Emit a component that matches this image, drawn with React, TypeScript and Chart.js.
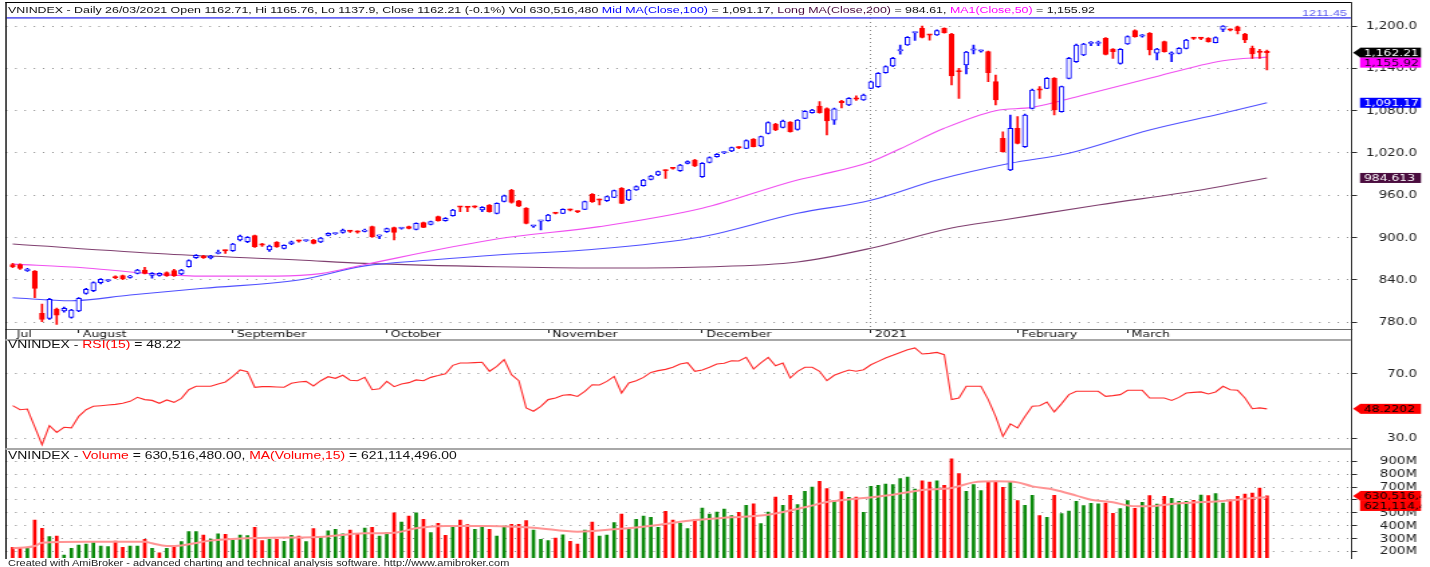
import React, { useEffect, useRef } from 'react';
import { Chart, registerables } from 'chart.js';
Chart.register(...registerables);

// The reference is horizontally stretched; render at W and stretch to 1430.
const W = 1067;
const S = 1430 / W;
const px = (p: number) => p / S;

// ---------------- DATA ----------------
const monthTickIdx = [0, 9, 30, 51, 73, 94, 117, 137, 152];
const monthTickLabels = ['Jul', 'August', 'September', 'October', 'November', 'December', '2021', 'February', 'March'];
const yearIdx = 117;

const opens = [
  861.7, 861.7, 853.2, 852.7, 792.7, 785.6, 798.9, 796, 787, 796,
  821.1, 824.8, 836.2, 838.8, 843.6, 846.1, 843.8, 849.4, 854.1, 846.6,
  846.6, 850.4, 853.2, 848.5, 858.9, 871.6, 874, 871.2, 877.6, 882,
  881.5, 896.7, 894.3, 902.8, 890, 882.5, 893.4, 884.8, 891, 895.3,
  895.5, 896.7, 893.8, 903.3, 905.5, 907.5, 909.3, 908.3, 909, 915.6,
  902, 908.5, 914.2, 913, 915.6, 911.8, 921.2, 918.9, 929.7, 924.1,
  931.2, 943.7, 943.2, 943.7, 939.2, 946.3, 934.5, 951.5, 967, 952.2,
  941.5, 916.3, 923.3, 924.1, 934.7, 934.5, 939.4, 937, 940.1, 961.4,
  953.6, 952.4, 957.1, 969.9, 953.4, 967.5, 973.7, 982.6, 988.8, 995.2,
  998.4, 995, 1005.3, 1010, 986.4, 1006.7, 1014.8, 1020.3, 1022.8, 1027.7,
  1026.6, 1039.8, 1029.9, 1047.9, 1061.1, 1056.4, 1063.9, 1053.5, 1069.1, 1077.1,
  1086.6, 1083, 1066.5, 1093.7, 1088, 1096.7, 1095.1, 1111.6, 1114, 1133.8,
  1143.3, 1164.8, 1173.1, 1190.3, 1196.7, 1187.4, 1187.2, 1196.7, 1188.7, 1135.5,
  1144.7, 1165.8, 1164.4, 1163.6, 1121.1, 1040.8, 995.9, 1054.9, 1029, 1083.3,
  1109.5, 1111.6, 1125.8, 1078.6, 1125.8, 1149.4, 1158.9, 1175.2, 1175.2, 1182.5,
  1167.4, 1147, 1174.5, 1193.4, 1185.6, 1189.6, 1161.4, 1177.8, 1160.1, 1161.3,
  1168.3, 1182.7, 1182.7, 1182.5, 1176.4, 1195.3, 1194.5, 1199, 1188.7, 1168.3,
  1162.9, 1162.71,
];
const highs = [
  863.5, 863, 856.5, 853.5, 806, 814, 800, 801.5, 798.5, 815,
  828, 837.5, 842, 840.5, 846, 847, 846.5, 855, 857.9, 850.5,
  850, 851.5, 855, 855, 868.5, 876, 875, 875, 882.5, 882.5,
  892, 903.5, 901.5, 903.5, 892, 889.5, 894.5, 890, 895, 896.5,
  897, 897.5, 900.5, 907, 907, 912, 910.5, 909.5, 912, 916.5,
  903.5, 913.5, 915, 914.5, 916.5, 921, 922, 923.5, 930.5, 928.5,
  940, 944.5, 944.5, 945, 944, 947, 949.5, 960.5, 968.5, 953,
  942.5, 917.5, 924.5, 933, 935.5, 941, 940.5, 938, 952, 962.5,
  954.5, 959, 967.5, 971, 968.5, 973.5, 982.5, 988.5, 994.5, 996,
  999.5, 1004, 1009, 1011, 1006.5, 1014.5, 1019, 1022, 1028.5, 1029,
  1038.5, 1040.5, 1044, 1064, 1062, 1066.5, 1064.5, 1067.5, 1080, 1082,
  1092.7, 1084, 1083.5, 1094.5, 1098.5, 1101, 1103.5, 1122, 1134, 1143.5,
  1155.5, 1173, 1185, 1191.5, 1200, 1188, 1194.5, 1197.5, 1189.5, 1140,
  1164, 1173, 1166, 1164.5, 1130.5, 1050, 1073.8, 1071.5, 1075, 1110.5,
  1114, 1127, 1127, 1115, 1155.5, 1174.5, 1175.5, 1178, 1178.5, 1183.5,
  1168, 1168, 1186, 1194.5, 1188, 1190.5, 1168.5, 1178.5, 1163.5, 1169.5,
  1181, 1184, 1184, 1183.5, 1184.5, 1200.5, 1196, 1200, 1189.5, 1171.5,
  1167, 1165.76,
];
const lows = [
  857.5, 855, 852, 815, 781, 784, 777, 794.5, 786, 795,
  820, 823.5, 834.5, 837.5, 842, 840.5, 842.5, 848.5, 848.5, 842.5,
  845.5, 845, 845, 847.5, 858, 870.5, 870.5, 870, 877, 877.5,
  880.5, 895.5, 893, 886, 887.5, 880.5, 886, 884, 890, 893.5,
  894.5, 891, 893, 902.5, 904.5, 906.5, 907.5, 906.5, 908, 900.5,
  898.5, 907.5, 896.7, 912, 912.5, 911, 914, 918, 923.5, 923.5,
  930.5, 936.8, 937, 942, 936.8, 936, 933.5, 950.5, 949, 944,
  919.5, 914.5, 910.8, 923.5, 933.5, 934, 938, 935.5, 939.5, 950,
  946.5, 951.5, 956.5, 948, 952.5, 967, 973, 982, 988, 984,
  997, 994, 1004.5, 1000.5, 985.5, 1006, 1014, 1019, 1022, 1026,
  1026, 1028.5, 1029, 1047, 1051.5, 1055.5, 1049.5, 1052.5, 1068.5, 1076.5,
  1076.5, 1045.5, 1060.5, 1084, 1087, 1094.5, 1094.5, 1111, 1113, 1133,
  1142.5, 1160, 1172.5, 1179.5, 1183, 1180, 1186.5, 1190, 1116.4, 1097.5,
  1132, 1160.5, 1163, 1121, 1088, 1021, 995, 1033, 1028, 1082.5,
  1097.5, 1111, 1073.8, 1078, 1125, 1148.5, 1158, 1172, 1172, 1159,
  1154.1, 1146, 1174, 1184, 1184, 1158.9, 1152, 1163, 1149.5, 1160.5,
  1167.5, 1181, 1180.5, 1177, 1176, 1192, 1193, 1188.7, 1176.4, 1154.1,
  1154.1, 1137.9,
];
const closes = [
  858.9, 856.5, 855.5, 828.1, 784.2, 812.6, 790.3, 799.9, 797.4, 814,
  826.7, 836.2, 840.9, 839.3, 843.1, 841.8, 845.6, 854.1, 849.4, 849.4,
  849.4, 846.1, 846.1, 854.1, 867.4, 874.9, 871.6, 874, 878, 881.2,
  891, 902.3, 900.4, 887.2, 889.5, 888.2, 887.2, 889, 894, 894.9,
  895.9, 892, 899.5, 906, 905.9, 910.9, 908.8, 907.8, 910.9, 901.4,
  902.5, 912.7, 907.5, 913.4, 913.2, 920.3, 914.6, 922.7, 924.1, 927.4,
  939.2, 943.3, 942.8, 943.3, 943, 936.8, 948.7, 959.3, 950, 944.8,
  920.3, 916.7, 923.8, 932.1, 934.3, 940.1, 939, 936.6, 951, 951,
  953.2, 958.1, 966.6, 948.6, 967.5, 972.3, 981.7, 987.4, 993.5, 994.8,
  998, 1003, 1007.7, 1001.5, 1005.3, 1013.4, 1018.1, 1020.7, 1027.5, 1027.3,
  1037.5, 1029, 1043.1, 1063, 1052.6, 1065.3, 1050.2, 1066.8, 1079, 1080.9,
  1077.1, 1065.5, 1082.5, 1091.3, 1097.5, 1096.3, 1102.2, 1121, 1132.9, 1142.4,
  1154.2, 1165.2, 1183.9, 1190.7, 1183.9, 1187, 1193.4, 1190.5, 1129.1, 1135.1,
  1163, 1166.2, 1164.8, 1133.8, 1095.1, 1021.9, 1054.9, 1033.7, 1073.8, 1109.3,
  1109.1, 1125.8, 1081, 1114, 1154.2, 1173.1, 1174.5, 1175.6, 1175.6, 1159.8,
  1163.6, 1166.9, 1184.9, 1184.9, 1186, 1166, 1167.4, 1163.6, 1160.5, 1168.3,
  1180.2, 1182.3, 1182.3, 1177.8, 1183.5, 1199.9, 1194.1, 1193.4, 1180.2, 1160.3,
  1162.5, 1162.21,
];

const ma50Idx = [0, 10, 20, 26, 36, 42, 48, 66, 80, 94, 107, 110, 117, 121, 127, 134, 139, 146, 155, 165, 171];
const ma50Val = [862.5, 857, 848, 845.5, 845.5, 849, 862, 898, 915.6, 941.6, 981.7, 988.8, 1007.7, 1026, 1055, 1080, 1084.7, 1102.2, 1125.9, 1150.8, 1155.92];
const ma100Idx = [0, 8, 16, 26, 39, 48, 57, 66, 78, 94, 107, 117, 126, 136, 144, 155, 165, 171];
const ma100Val = [814.9, 810.6, 818.7, 828.2, 840, 860, 868.3, 875.4, 882.5, 901.4, 934.5, 953, 981.7, 1005.4, 1019.6, 1052.6, 1076.3, 1091.17];
const ma200Idx = [0, 21, 39, 48, 66, 80, 94, 107, 117, 128, 135, 148, 162, 171];
const ma200Val = [891, 876.8, 868.3, 863.6, 858.8, 857, 858.5, 865.5, 885, 913.7, 925, 946.3, 967.5, 984.61];

const hLineLevel = 1211.45;
const priceTicks = [780, 840, 900, 960, 1020, 1080, 1140, 1200];

const rsi15 = [
  50.2, 47.7, 48.1, 37, 25.8, 37.7, 33.5, 36.7, 36.3, 43.5,
  47.7, 49.8, 50.2, 50.6, 51, 51.7, 52.9, 55.4, 54, 53.5,
  51.7, 53.8, 52.3, 54.8, 60.2, 62.3, 62.3, 62.3, 63.8, 65,
  68.5, 72.5, 71.5, 61.7, 62.1, 62.1, 61.9, 61.7, 64.2, 65,
  65.4, 62.5, 65.8, 68.3, 67.3, 69.2, 66.1, 65.8, 67.9, 60.2,
  60.8, 65.4, 62.1, 63.8, 64.6, 66.3, 65.8, 67.9, 69, 70.2,
  75.4, 76.9, 76.9, 77.1, 77.3, 71.7, 74.8, 79, 69.6, 65.8,
  48.8, 46.7, 49.8, 54, 55, 56.7, 57.1, 56, 59.2, 63.3,
  63.1, 65.4, 68.5, 58.1, 64.4, 65.8, 67.9, 71, 72.1, 72.9,
  74.2, 76.3, 77.1, 71.7, 72.5, 74.2, 76.2, 76.7, 78.3, 78.1,
  80.4, 73.1, 76.9, 80.4, 75.2, 76.9, 67.5, 71.7, 74.2, 74.2,
  71.7, 65.8, 69.2, 71, 72.5, 71.7, 72.7, 75.8, 77.9, 80,
  81.7, 83.5, 85.2, 86.3, 82.5, 82.9, 83.5, 82.1, 54, 55,
  62.3, 62.3, 62.3, 54, 43.5, 31, 38.8, 36.3, 43.5, 49.8,
  50.2, 52.5, 46.3, 51.5, 57.1, 59.2, 59.2, 59.2, 59.2, 56,
  56.5, 57.1, 59.8, 59.8, 59.8, 55, 55, 55, 53.5, 55.4,
  58.1, 58.5, 58.8, 57.5, 58.8, 62.3, 60.2, 59.8, 55, 48.3,
  48.8, 48.22,
];
const rsiTicks = [30, 70];

const volumeM = [
  231, 223, 223, 443, 379, 314, 319, 171, 223, 249,
  257, 267, 241, 236, 280, 231, 241, 241, 293, 223,
  189, 223, 241, 275, 353, 353, 327, 296, 335, 332,
  288, 327, 322, 386, 283, 293, 293, 277, 324, 319,
  275, 376, 314, 360, 371, 335, 366, 335, 381, 386,
  319, 345, 500, 428, 474, 500, 449, 345, 417, 324,
  397, 443, 407, 371, 397, 371, 319, 397, 410, 410,
  438, 366, 293, 283, 303, 329, 277, 257, 366, 428,
  319, 327, 423, 490, 379, 449, 474, 464, 386, 511,
  443, 417, 376, 447, 537, 490, 506, 529, 477, 503,
  557, 570, 415, 506, 622, 557, 635, 563, 666, 700,
  744, 687, 594, 664, 620, 622, 503, 705, 713, 723,
  718, 765, 778, 684, 749, 739, 749, 713, 920, 804,
  666, 718, 672, 744, 744, 697, 744, 594, 557, 635,
  477, 464, 635, 493, 513, 589, 555, 573, 570, 576,
  495, 532, 594, 534, 581, 633, 568, 627, 612, 589,
  589, 596, 638, 633, 648, 576, 601, 627, 646, 653,
  692, 630.5,
];
const volumeUp = [
  0, 0, 1, 0, 0, 1, 0, 1, 1, 1,
  1, 1, 1, 1, 0, 0, 1, 1, 0, 1,
  0, 1, 0, 1, 1, 1, 0, 1, 1, 0,
  1, 1, 1, 0, 0, 1, 0, 1, 1, 0,
  1, 0, 1, 1, 1, 1, 0, 0, 1, 0,
  1, 1, 0, 1, 0, 1, 0, 1, 0, 0,
  1, 0, 0, 1, 1, 0, 1, 1, 0, 0,
  0, 1, 1, 1, 0, 1, 0, 0, 1, 0,
  1, 1, 1, 0, 1, 1, 1, 1, 1, 0,
  0, 1, 1, 0, 1, 1, 1, 1, 1, 0,
  1, 0, 1, 1, 0, 1, 0, 1, 1, 1,
  0, 0, 1, 0, 1, 0, 1, 1, 1, 1,
  1, 1, 1, 1, 0, 0, 1, 0, 0, 0,
  1, 1, 1, 0, 0, 0, 1, 0, 1, 1,
  0, 1, 0, 1, 1, 1, 1, 1, 1, 0,
  0, 1, 1, 0, 1, 0, 1, 0, 1, 1,
  1, 0, 1, 0, 1, 1, 0, 0, 0, 0,
  0, 0,
];
const volMaIdx = [0, 3, 4, 10, 18, 19, 21, 23, 27, 32, 35, 41, 48, 52, 55, 59, 65, 71, 77, 82, 85, 88, 93, 98, 103, 108, 111, 116, 120, 124, 128, 131, 134, 137, 139, 142, 145, 147, 150, 153, 155, 158, 160, 166, 169, 171];
const volMaVal = [223, 241, 267, 275, 275, 262, 241, 246, 283, 301, 306, 309, 340, 345, 379, 397, 397, 384, 353, 371, 386, 405, 443, 464, 485, 542, 583, 614, 640, 677, 692, 736, 744, 736, 705, 679, 633, 601, 581, 550, 550, 568, 576, 596, 614, 621.1];
const volTicks = [200, 300, 400, 500, 600, 700, 800, 900];

// ---------------- LAYOUT / STYLE ----------------
const X_MIN = -0.9134;
const X_MAX = 182.457;
const PLOT_L = px(6);
const PLOT_R = px(1351);
const AXIS_W = W - PLOT_R;
const LABEL_R = px(1417);
const BOX_L = px(1360);
const BOX_R = px(1421);
const ARROW_X = px(1353);
const BOX_TEXT_L = px(1364);
const BOX_H = 10;
const AXIS_FONT = '10px "DejaVu Sans"';
const BOX_FONT = '9.2px "DejaVu Sans"';
const HEAD_FONT = '"Liberation Sans", Arial, sans-serif';
const GRID = '#8a8a8a';
const UP_C = '#0000ff';
const DN_C = '#ff0000';

type Box = { value: number; text: string; bg: string; fg: string; arrow: boolean };

function sidePlugin(id: string, fmt: (v: number) => string, boxes: Box[], extra?: (chart: any) => void) {
  return {
    id,
    afterDraw(chart: any) {
      const ctx = chart.ctx;
      const y = chart.scales.y;
      ctx.save();
      if (extra) extra(chart);
      ctx.font = AXIS_FONT;
      ctx.fillStyle = '#222';
      ctx.textAlign = 'right';
      ctx.textBaseline = 'middle';
      for (const t of y.ticks) ctx.fillText(fmt(t.value), LABEL_R, y.getPixelForValue(t.value) + 0.5);
      let prev = -1e9;
      ctx.font = BOX_FONT;
      ctx.textAlign = 'left';
      for (const b of boxes) {
        let cy = y.getPixelForValue(b.value);
        if (cy < prev + BOX_H) cy = prev + BOX_H;
        prev = cy;
        ctx.fillStyle = b.bg;
        ctx.fillRect(BOX_L, cy - BOX_H / 2, BOX_R - BOX_L, BOX_H);
        if (b.arrow) {
          ctx.beginPath();
          ctx.moveTo(ARROW_X, cy);
          ctx.lineTo(BOX_L + 0.5, cy - BOX_H / 2);
          ctx.lineTo(BOX_L + 0.5, cy + BOX_H / 2);
          ctx.closePath();
          ctx.fill();
        }
        ctx.save();
        ctx.beginPath();
        ctx.rect(BOX_L, cy - BOX_H / 2, BOX_R - BOX_L, BOX_H);
        ctx.clip();
        ctx.fillStyle = b.fg;
        ctx.fillText(b.text, BOX_TEXT_L, cy + 0.5);
        ctx.restore();
      }
      ctx.restore();
    },
  };
}

function yAxis(min: number, max: number, ticks: number[]) {
  return {
    type: 'linear',
    position: 'right',
    min,
    max,
    afterBuildTicks: (s: any) => { s.ticks = ticks.map((v) => ({ value: v })); },
    afterFit: (s: any) => { s.width = AXIS_W; },
    ticks: { display: false },
    grid: { color: GRID, lineWidth: 1, tickLength: 4.5, tickColor: '#303030', offset: false },
    border: { display: false, dash: [1, 5.9] },
  };
}

const hiddenX = () => ({ type: 'linear', display: false, min: X_MIN, max: X_MAX, offset: false, grid: { offset: false } });

const baseOpts = {
  responsive: false,
  animation: false,
  devicePixelRatio: 1,
  events: [],
  plugins: { legend: { display: false }, tooltip: { enabled: false } },
};

const pts = (idx: number[], vals: number[]) => idx.map((x, k) => ({ x, y: vals[k] }));
const maLine = (idx: number[], vals: number[], color: string) => ({
  type: 'line', data: pts(idx, vals), borderColor: color, borderWidth: 1.1, pointRadius: 0, cubicInterpolationMode: 'monotone',
});

function makeMain(canvas: HTMLCanvasElement) {
  const ix = closes.map((_, i) => i);
  const up = ix.map((i) => closes[i] >= opens[i]);
  const fmt = (v: number) => v.toLocaleString('en-US', { minimumFractionDigits: 1, maximumFractionDigits: 1 });
  const boxes: Box[] = [
    { value: closes[closes.length - 1], text: '1,162.21', bg: '#000000', fg: '#ffffff', arrow: true },
    { value: ma50Val[ma50Val.length - 1], text: '1,155.92', bg: '#ff00ff', fg: '#1a001a', arrow: false },
    { value: ma100Val[ma100Val.length - 1], text: '1,091.17', bg: '#0000ff', fg: '#ffffff', arrow: false },
    { value: 984.613, text: '984.613', bg: '#4a0c3e', fg: '#ffffff', arrow: false },
  ];
  const extra = (chart: any) => {
    const ctx = chart.ctx;
    const yy = chart.scales.y.getPixelForValue(hLineLevel);
    ctx.font = '9.5px "Liberation Sans"';
    ctx.fillStyle = '#5a5af0';
    ctx.textAlign = 'right';
    ctx.textBaseline = 'alphabetic';
    ctx.fillText('1211.45', px(1347), yy - 1.5);
  };
  return new Chart(canvas, {
    type: 'bar',
    data: {
      datasets: [
        { type: 'bar', data: ix.map((i) => ({ x: i, y: [opens[i], closes[i]] })), backgroundColor: up.map((u) => (u ? '#ffffff' : DN_C)), borderColor: up.map((u) => (u ? UP_C : DN_C)), borderWidth: 1, borderSkipped: false, barThickness: 3.7, minBarLength: 1.3, grouped: false } as any,
        { type: 'bar', data: ix.map((i) => ({ x: i, y: [lows[i], highs[i]] })), backgroundColor: up.map((u) => (u ? UP_C : DN_C)), borderWidth: 0, barThickness: 1, grouped: false } as any,
        { type: 'line', data: [{ x: X_MIN, y: hLineLevel }, { x: X_MAX, y: hLineLevel }], borderColor: '#6464f0', borderWidth: 1.6, pointRadius: 0 } as any,
        maLine(ma50Idx, ma50Val, '#f050f0') as any,
        maLine(ma100Idx, ma100Val, '#5050ff') as any,
        maLine(ma200Idx, ma200Val, '#804070') as any,
      ],
    },
    options: {
      ...baseOpts,
      layout: { padding: { left: PLOT_L, top: 2, right: 0, bottom: 0 } },
      scales: {
        x: {
          type: 'linear',
          min: X_MIN,
          max: X_MAX,
          offset: false,
          afterBuildTicks: (s: any) => { s.ticks = monthTickIdx.map((v) => ({ value: v })); },
          afterFit: (s: any) => { s.height = 11; },
          ticks: {
            autoSkip: false, maxRotation: 0, minRotation: 0, align: 'start', labelOffset: 3, padding: -4,
            font: { family: 'DejaVu Sans', size: 9.4 }, color: '#111',
            callback: (v: any) => { const k = monthTickIdx.indexOf(v); return k >= 0 ? monthTickLabels[k] : ''; },
          },
          grid: {
            offset: false,
            color: (c: any) => (c.tick && c.tick.value === yearIdx ? GRID : 'rgba(0,0,0,0)'),
            tickColor: (c: any) => (c.tick && c.tick.value === 0 ? 'rgba(0,0,0,0)' : '#202020'),
            tickLength: 4, lineWidth: 1,
          },
          border: { display: true, color: '#6a6a6a', width: 1, dash: [1, 3] },
        },
        y: yAxis(770.52, 1234.02, priceTicks),
      },
    } as any,
    plugins: [sidePlugin('mainSide', fmt, boxes, extra)],
  });
}

function makeRsi(canvas: HTMLCanvasElement) {
  return new Chart(canvas, {
    type: 'line',
    data: { datasets: [{ data: rsi15.map((v, i) => ({ x: i, y: v })), borderColor: '#ff2a2a', borderWidth: 1.1, pointRadius: 0, tension: 0 }] },
    options: {
      ...baseOpts,
      layout: { padding: { left: PLOT_L, top: 0, right: 0, bottom: 2 } },
      scales: { x: hiddenX(), y: yAxis(23.75, 91.25, rsiTicks) },
    } as any,
    plugins: [sidePlugin('rsiSide', (v) => v.toFixed(1), [{ value: 48.2202, text: '48.2202', bg: '#ff0000', fg: '#000000', arrow: true }])],
  });
}

function makeVol(canvas: HTMLCanvasElement) {
  return new Chart(canvas, {
    type: 'bar',
    data: {
      datasets: [
        { type: 'line', data: pts(volMaIdx, volMaVal), borderColor: '#ff9494', borderWidth: 2, pointRadius: 0, cubicInterpolationMode: 'monotone' } as any,
        { type: 'bar', data: volumeM.map((v, i) => ({ x: i, y: v })), backgroundColor: volumeUp.map((u) => (u ? '#0b8a0b' : '#ff0000')), borderWidth: 0, barThickness: 2.0, grouped: false } as any,
      ],
    },
    options: {
      ...baseOpts,
      layout: { padding: { left: PLOT_L, top: 0, right: 0, bottom: 3 } },
      scales: { x: hiddenX(), y: yAxis(147.9, 987.9, volTicks) },
    } as any,
    plugins: [sidePlugin('volSide', (v) => `${v}M`, [
      { value: 630.51648, text: '630,516,480', bg: '#ff0000', fg: '#000000', arrow: true },
      { value: 621.114496, text: '621,114,496', bg: '#ff0000', fg: '#000000', arrow: false },
    ])],
  });
}

type Seg = [string, string];
const mainTitle: Seg[] = [
  ['VNINDEX - Daily 26/03/2021 Open 1162.71, Hi 1165.76, Lo 1137.9, Close 1162.21 (-0.1%) Vol 630,516,480 ', '#111'],
  ['Mid MA(Close,100)', '#0000ff'],
  [' = 1,091.17, ', '#111'],
  ['Long MA(Close,200)', '#4a0c3e'],
  [' = 984.61, ', '#111'],
  ['MA1(Close,50)', '#ff00ff'],
  [' = 1,155.92', '#111'],
];
const rsiTitle: Seg[] = [['VNINDEX - ', '#111'], ['RSI(15)', '#ff0000'], [' = 48.22', '#111']];
const volTitle: Seg[] = [
  ['VNINDEX - ', '#111'], ['Volume', '#ff0000'], [' = 630,516,480.00, ', '#111'], ['MA(Volume,15)', '#ff0000'], [' = 621,114,496.00', '#111'],
];

function Title({ segs, top, size }: { segs: Seg[]; top: number; size: number }) {
  return (
    <div style={{ position: 'absolute', left: px(8), top, fontFamily: HEAD_FONT, fontSize: size, lineHeight: `${size}px`, whiteSpace: 'pre' }}>
      {segs.map(([t, c], k) => (<span key={k} style={{ color: c }}>{t}</span>))}
    </div>
  );
}

const line = (left: number, top: number, width: number, height: number, bg: string) => (
  <div style={{ position: 'absolute', left, top, width, height, background: bg }} />
);

export default function App() {
  const mainRef = useRef<HTMLCanvasElement>(null);
  const rsiRef = useRef<HTMLCanvasElement>(null);
  const volRef = useRef<HTMLCanvasElement>(null);
  useEffect(() => {
    const charts = [makeMain(mainRef.current!), makeRsi(rsiRef.current!), makeVol(volRef.current!)];
    return () => charts.forEach((c) => c.destroy());
  }, []);
  return (
    <div style={{ position: 'absolute', left: 0, top: 0, width: 1430, height: 567, overflow: 'hidden', background: '#fff' }}>
      <div style={{ position: 'absolute', left: 0, top: 0, width: W, height: 567, transform: `scaleX(${S})`, transformOrigin: '0 0' }}>
        <canvas ref={mainRef} width={W} height={340} style={{ position: 'absolute', left: 0, top: 0 }} />
        <canvas ref={rsiRef} width={W} height={110} style={{ position: 'absolute', left: 0, top: 340 }} />
        <canvas ref={volRef} width={W} height={111} style={{ position: 'absolute', left: 0, top: 450 }} />
        {line(PLOT_L - 0.4, 1.5, 0.8, 557, '#000')}
        {line(PLOT_L, 1.5, PLOT_R - PLOT_L, 1, '#000')}
        {line(PLOT_R - 0.5, 1.5, 1, 557, '#3a3a3a')}
        {line(PLOT_L, 338.5, PLOT_R - PLOT_L, 2, '#a8a8a8')}
        {line(PLOT_L, 448, PLOT_R - PLOT_L, 2, '#a8a8a8')}
        <Title segs={mainTitle} top={6.1} size={9.25} />
        <Title segs={rsiTitle} top={340.2} size={10.4} />
        <Title segs={volTitle} top={450.8} size={10.4} />
        <div style={{ position: 'absolute', left: px(8), top: 560.3, fontFamily: HEAD_FONT, fontSize: 8.2, lineHeight: '8.2px', whiteSpace: 'pre', color: '#222' }}>
          Created with AmiBroker - advanced charting and technical analysis software. http://www.amibroker.com
        </div>
      </div>
    </div>
  );
}
